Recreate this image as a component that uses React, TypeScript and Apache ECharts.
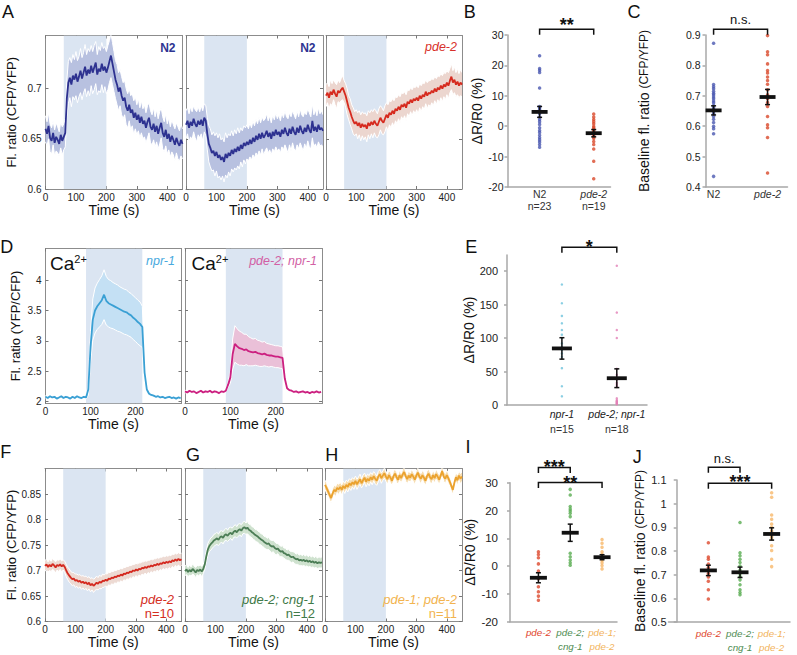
import React, { useEffect, useRef } from 'react';
import * as echarts from 'echarts';

const FONT = '"Liberation Sans", Arial, Helvetica, sans-serif';

// ---------------- trace data (mean, SEM) ----------------
// panels A, F, G, H: samples every 5 s, 0..450 s ; SEM in thousandths
const traceStep = 5;
const stimA = [60, 200];
const timeTicksA = [0, 100, 200, 300, 400];
const ratioTicksA = [0.6, 0.65, 0.7];
const ratioTicksF = [0.6, 0.65, 0.7, 0.75, 0.8, 0.85];

const a1Mean = [
  0.660, 0.655, 0.663, 0.651, 0.648, 0.656, 0.646, 0.652, 0.649, 0.645,
  0.654, 0.648, 0.652, 0.656, 0.690, 0.706, 0.711, 0.704, 0.713, 0.709,
  0.715, 0.707, 0.712, 0.718, 0.710, 0.716, 0.722, 0.713, 0.719, 0.715,
  0.723, 0.716, 0.721, 0.726, 0.714, 0.720, 0.717, 0.725, 0.718, 0.722,
  0.716, 0.721, 0.727, 0.733, 0.725, 0.717, 0.709, 0.704, 0.697, 0.701,
  0.693, 0.688, 0.691, 0.682, 0.678, 0.684, 0.676, 0.679, 0.671, 0.676,
  0.669, 0.674, 0.666, 0.672, 0.665, 0.668, 0.661, 0.667, 0.671, 0.662,
  0.659, 0.665, 0.657, 0.663, 0.655, 0.661, 0.666, 0.656, 0.652, 0.659,
  0.650, 0.655, 0.647, 0.653, 0.649, 0.644, 0.651, 0.646, 0.643, 0.649,
  0.645,
];
const a1Sem = [
  13, 12, 13, 14, 13, 12, 13, 14, 13, 12,
  13, 14, 13, 14, 18, 21, 20, 22, 21, 20,
  22, 21, 20, 22, 21, 20, 22, 21, 21, 22,
  20, 21, 22, 21, 20, 22, 21, 21, 22, 20,
  21, 22, 21, 22, 21, 20, 19, 20, 19, 18,
  19, 18, 17, 18, 17, 16, 17, 16, 17, 16,
  15, 16, 15, 16, 15, 16, 15, 16, 15, 16,
  15, 16, 15, 16, 15, 16, 15, 16, 15, 16,
  15, 16, 15, 16, 15, 16, 15, 16, 15, 16,
  15,
];
const a2Mean = [
  0.664, 0.668, 0.661, 0.667, 0.663, 0.670, 0.665, 0.662, 0.668, 0.664,
  0.669, 0.663, 0.671, 0.668, 0.655, 0.645, 0.641, 0.636, 0.638, 0.633,
  0.637, 0.631, 0.634, 0.629, 0.632, 0.627, 0.635, 0.631, 0.636, 0.633,
  0.639, 0.635, 0.640, 0.637, 0.642, 0.638, 0.644, 0.640, 0.646, 0.643,
  0.647, 0.644, 0.649, 0.645, 0.651, 0.647, 0.653, 0.649, 0.655, 0.650,
  0.656, 0.651, 0.654, 0.658, 0.652, 0.656, 0.650, 0.657, 0.653, 0.659,
  0.654, 0.657, 0.652, 0.659, 0.655, 0.661, 0.656, 0.653, 0.660, 0.655,
  0.662, 0.657, 0.654, 0.661, 0.656, 0.663, 0.658, 0.655, 0.661, 0.657,
  0.664, 0.659, 0.656, 0.668, 0.658, 0.662, 0.657, 0.664, 0.659, 0.661,
  0.658,
];
const a2Sem = [
  14, 13, 14, 15, 14, 13, 14, 15, 14, 13,
  14, 15, 14, 15, 16, 18, 19, 18, 19, 20,
  19, 20, 21, 20, 19, 20, 21, 20, 19, 20,
  19, 18, 19, 18, 19, 18, 17, 18, 17, 18,
  17, 16, 17, 16, 17, 16, 17, 16, 17, 16,
  16, 17, 16, 17, 16, 17, 16, 17, 16, 17,
  16, 17, 16, 17, 16, 17, 16, 17, 16, 17,
  16, 17, 16, 17, 16, 17, 16, 17, 16, 17,
  16, 17, 16, 17, 16, 17, 16, 17, 16, 17,
  16,
];
const a3Mean = [
  0.693, 0.696, 0.691, 0.697, 0.694, 0.699, 0.695, 0.692, 0.698, 0.696,
  0.699, 0.701, 0.697, 0.693, 0.687, 0.681, 0.677, 0.672, 0.668, 0.665,
  0.667, 0.663, 0.666, 0.661, 0.665, 0.662, 0.664, 0.660, 0.666, 0.663,
  0.667, 0.664, 0.668, 0.665, 0.663, 0.667, 0.671, 0.668, 0.666, 0.670,
  0.674, 0.671, 0.676, 0.674, 0.678, 0.675, 0.680, 0.678, 0.682, 0.679,
  0.684, 0.682, 0.685, 0.681, 0.687, 0.685, 0.689, 0.686, 0.690, 0.688,
  0.691, 0.688, 0.693, 0.690, 0.694, 0.692, 0.697, 0.693, 0.696, 0.695,
  0.698, 0.696, 0.700, 0.697, 0.701, 0.699, 0.703, 0.700, 0.704, 0.702,
  0.706, 0.703, 0.708, 0.712, 0.706, 0.709, 0.704, 0.707, 0.703, 0.706,
  0.704,
];
const a3Sem = [
  11, 10, 11, 12, 11, 10, 11, 12, 11, 10,
  11, 12, 11, 12, 13, 12, 13, 12, 13, 12,
  12, 13, 12, 13, 12, 13, 12, 13, 12, 13,
  12, 13, 12, 13, 12, 13, 12, 13, 12, 13,
  12, 13, 12, 13, 12, 13, 12, 13, 12, 13,
  12, 13, 12, 13, 12, 13, 12, 13, 12, 13,
  12, 13, 12, 13, 12, 13, 12, 13, 12, 13,
  12, 13, 12, 13, 12, 13, 12, 13, 12, 13,
  12, 13, 12, 13, 12, 13, 12, 13, 12, 13,
  12,
];
const fMean = [
  0.709, 0.712, 0.707, 0.711, 0.708, 0.713, 0.710, 0.706, 0.711, 0.709,
  0.712, 0.708, 0.711, 0.707, 0.700, 0.694, 0.690, 0.686, 0.683, 0.684,
  0.680, 0.681, 0.678, 0.680, 0.676, 0.678, 0.675, 0.677, 0.673, 0.676,
  0.671, 0.674, 0.670, 0.673, 0.676, 0.674, 0.678, 0.676, 0.680, 0.679,
  0.682, 0.680, 0.684, 0.683, 0.686, 0.685, 0.688, 0.687, 0.690, 0.689,
  0.692, 0.690, 0.694, 0.693, 0.696, 0.695, 0.698, 0.697, 0.700, 0.699,
  0.702, 0.700, 0.703, 0.702, 0.705, 0.704, 0.707, 0.705, 0.708, 0.707,
  0.710, 0.708, 0.711, 0.710, 0.713, 0.711, 0.714, 0.713, 0.716, 0.714,
  0.717, 0.715, 0.718, 0.716, 0.720, 0.718, 0.722, 0.719, 0.723, 0.720,
  0.722,
];
const fSem = [
  10, 11, 10, 11, 10, 11, 10, 11, 10, 11,
  10, 11, 10, 11, 12, 12, 13, 12, 13, 12,
  13, 12, 13, 12, 13, 12, 13, 12, 13, 12,
  13, 12, 13, 12, 13, 12, 13, 12, 13, 12,
  12, 13, 12, 13, 12, 13, 12, 13, 12, 13,
  12, 13, 12, 13, 12, 13, 12, 13, 12, 13,
  12, 13, 12, 13, 12, 13, 12, 13, 12, 13,
  12, 13, 12, 13, 12, 13, 12, 13, 12, 13,
  12, 13, 12, 13, 12, 13, 12, 13, 12, 13,
  12,
];
const gMean = [
  0.699, 0.702, 0.697, 0.701, 0.698, 0.703, 0.700, 0.696, 0.701, 0.699,
  0.702, 0.698, 0.703, 0.712, 0.728, 0.741, 0.748, 0.752, 0.755, 0.759,
  0.761, 0.763, 0.760, 0.765, 0.767, 0.764, 0.769, 0.771, 0.768, 0.772,
  0.774, 0.771, 0.776, 0.778, 0.775, 0.779, 0.781, 0.778, 0.783, 0.785,
  0.782, 0.784, 0.780, 0.778, 0.775, 0.773, 0.770, 0.768, 0.766, 0.763,
  0.761, 0.759, 0.756, 0.754, 0.752, 0.753, 0.749, 0.747, 0.748, 0.744,
  0.742, 0.743, 0.739, 0.737, 0.738, 0.734, 0.733, 0.730, 0.731, 0.728,
  0.726, 0.727, 0.724, 0.722, 0.723, 0.720, 0.721, 0.719, 0.721, 0.718,
  0.720, 0.717, 0.719, 0.716, 0.718, 0.715, 0.717, 0.714, 0.716, 0.715,
  0.716,
];
const gSem = [
  9, 10, 9, 10, 9, 10, 9, 10, 9, 10,
  9, 10, 9, 10, 11, 12, 11, 12, 11, 12,
  11, 12, 11, 12, 11, 12, 11, 12, 11, 12,
  11, 12, 11, 12, 11, 12, 11, 12, 11, 12,
  11, 12, 11, 12, 11, 12, 11, 12, 11, 12,
  11, 12, 11, 12, 11, 12, 11, 12, 11, 12,
  11, 10, 11, 10, 11, 10, 11, 10, 11, 10,
  11, 10, 11, 10, 11, 10, 11, 10, 11, 10,
  11, 10, 11, 10, 11, 10, 11, 10, 11, 10,
  11,
];
const hMean = [
  0.868, 0.862, 0.855, 0.848, 0.842, 0.851, 0.858, 0.855, 0.862, 0.859,
  0.864, 0.858, 0.866, 0.861, 0.868, 0.864, 0.871, 0.867, 0.873, 0.869,
  0.876, 0.869, 0.874, 0.879, 0.871, 0.877, 0.882, 0.874, 0.880, 0.876,
  0.883, 0.878, 0.885, 0.880, 0.876, 0.884, 0.889, 0.881, 0.886, 0.891,
  0.884, 0.879, 0.887, 0.882, 0.876, 0.885, 0.890, 0.883, 0.878, 0.887,
  0.881, 0.888, 0.893, 0.885, 0.879, 0.886, 0.882, 0.889, 0.884, 0.878,
  0.886, 0.892, 0.884, 0.880, 0.887, 0.882, 0.876, 0.885, 0.890, 0.883,
  0.879, 0.887, 0.881, 0.889, 0.884, 0.878, 0.886, 0.895, 0.884, 0.880,
  0.887, 0.881, 0.874, 0.866, 0.858, 0.872, 0.883, 0.877, 0.886, 0.880,
  0.884,
];
const hSem = [
  9, 10, 9, 10, 9, 10, 9, 10, 9, 10,
  9, 10, 9, 10, 9, 10, 9, 10, 9, 10,
  9, 10, 9, 10, 9, 10, 9, 10, 9, 10,
  9, 10, 9, 10, 9, 10, 9, 10, 9, 10,
  9, 10, 9, 10, 9, 10, 9, 10, 9, 10,
  9, 10, 9, 10, 9, 10, 9, 10, 9, 10,
  9, 10, 9, 10, 9, 10, 9, 10, 9, 10,
  9, 10, 9, 10, 9, 10, 9, 10, 9, 10,
  9, 10, 9, 10, 9, 10, 9, 10, 9, 10,
  9,
];

// panel D: Ca2+ traces every 5 s, 0..300 s ; SEM in hundredths
const dStep = 5;
const stimD = [90, 215];
const timeTicksD = [0, 100, 200];
const ratioTicksD = [2, 2.5, 3, 3.5, 4];
const d1Mean = [
  2.08, 2.06, 2.09, 2.07, 2.08, 2.05, 2.07, 2.09, 2.06, 2.08,
  2.07, 2.05, 2.08, 2.06, 2.09, 2.07, 2.06, 2.08, 2.07, 2.20,
  2.90, 3.35, 3.50, 3.57, 3.62, 3.67, 3.76, 3.66, 3.62, 3.60,
  3.58, 3.56, 3.54, 3.52, 3.50, 3.48, 3.47, 3.44, 3.42, 3.38,
  3.35, 3.31, 3.28, 3.23, 2.48, 2.20, 2.13, 2.11, 2.10, 2.08,
  2.09, 2.07, 2.08, 2.06, 2.07, 2.08, 2.06, 2.07, 2.05, 2.07,
  2.06,
];
const d1Sem = [
  2, 2, 2, 2, 2, 2, 2, 2, 2, 2,
  2, 2, 2, 2, 2, 2, 2, 2, 2, 10,
  25, 34, 37, 38, 39, 40, 41, 40, 39, 39,
  38, 38, 38, 37, 37, 37, 37, 36, 36, 36,
  36, 36, 36, 34, 10, 4, 3, 2, 2, 2,
  2, 2, 2, 2, 2, 2, 2, 2, 2, 2,
  2,
];
const d2Mean = [
  2.17, 2.15, 2.18, 2.16, 2.17, 2.14, 2.16, 2.18, 2.15, 2.17,
  2.16, 2.18, 2.15, 2.17, 2.16, 2.14, 2.17, 2.16, 2.18, 2.28,
  2.40, 2.78, 2.95, 2.91, 2.88, 2.87, 2.85, 2.86, 2.83, 2.82,
  2.81, 2.82, 2.80, 2.79, 2.78, 2.79, 2.77, 2.76, 2.76, 2.75,
  2.74, 2.74, 2.73, 2.72, 2.38, 2.22, 2.19, 2.18, 2.16, 2.17,
  2.15, 2.16, 2.17, 2.15, 2.16, 2.14, 2.16, 2.15, 2.17, 2.15,
  2.16,
];
const d2Sem = [
  2, 2, 2, 2, 2, 2, 2, 2, 2, 2,
  2, 2, 2, 2, 2, 2, 2, 2, 2, 4,
  10, 25, 30, 29, 28, 27, 26, 25, 24, 23,
  22, 22, 21, 21, 20, 20, 19, 19, 18, 18,
  18, 18, 18, 18, 8, 3, 2, 2, 2, 2,
  2, 2, 2, 2, 2, 2, 2, 2, 2, 2,
  2,
];

// ---------------- scatter (per-animal) data ----------------
const pctTicks = [-20, -10, 0, 10, 20, 30];
// B
const bGroups = ['N2', 'pde-2'];
const bCounts = ['n=23', 'n=19'];
const bN2 = [23.2, 19, 18.4, 17.7, 12.6, 6.5, 6.1, 5.5, 4.8, 4.2, 3.0, 2.2, 1.5, 0.6, -0.5, -1.4, -2.1, -3.0, -3.8, -4.5, -5.2, -6.0, -6.9];
const bPde2 = [4.0, 3.0, 2.2, 1.5, 0.8, 0, -0.5, -1.0, -1.5, -2.0, -2.5, -3.0, -3.5, -4.0, -5.0, -6.0, -7.5, -11.5, -17.3];
const bMeans = [4.7, -2.3];
const bSems = [1.8, 1.2];
// C
const cTicks = [0.4, 0.5, 0.6, 0.7, 0.8, 0.9];
const cN2 = [0.873, 0.737, 0.73, 0.723, 0.715, 0.708, 0.703, 0.696, 0.69, 0.683, 0.677, 0.668, 0.661, 0.655, 0.648, 0.641, 0.632, 0.623, 0.612, 0.6, 0.592, 0.575, 0.435];
const cPde2 = [0.898, 0.845, 0.835, 0.805, 0.783, 0.775, 0.762, 0.75, 0.738, 0.72, 0.703, 0.69, 0.678, 0.665, 0.632, 0.605, 0.595, 0.563, 0.446];
const cMeans = [0.652, 0.696];
const cSems = [0.015, 0.025];
// E
const eTicks = [0, 50, 100, 150, 200];
const eGroups = ['npr-1', 'pde-2; npr-1'];
const eCounts = ['n=15', 'n=18'];
const eNpr1 = [180, 152, 133, 122, 112, 105, 100, 92, 87, 82, 77, 72, 55, 28, 13];
const ePde2Npr1 = [208, 138, 112, 100, 54, 45, 38, 33, 30, 27, 10, 7.5, 6, 5, 4, 3, 2, 1];
const eMeans = [84.5, 40];
const eSems = [16, 14];
// I
const ijGroups = ['pde-2', 'pde-2;\ncng-1', 'pde-1;\npde-2'];
const iPde2 = [5.2, 4.2, 3.0, 0.8, -1.8, -4.5, -7.4, -9.2, -10.8, -12.3];
const iCng1 = [27.6, 25.6, 21.4, 20.5, 19.8, 19.0, 17.8, 4.6, 3.4, 2.2, 1.2, 0.3];
const iPde1 = [9.6, 8.2, 6.8, 5.2, 4.2, 3.4, 2.6, 2.0, 1.2, 0.2, -1.0];
const iMeans = [-4.2, 12.0, 3.2];
const iSems = [1.8, 3.1, 0.9];
// J
const jTicks = [0.5, 0.6, 0.7, 0.8, 0.9, 1, 1.1];
const jPde2 = [0.835, 0.775, 0.765, 0.745, 0.73, 0.72, 0.705, 0.69, 0.672, 0.636, 0.597];
const jCng1 = [0.92, 0.793, 0.78, 0.765, 0.751, 0.737, 0.72, 0.705, 0.692, 0.678, 0.657, 0.636, 0.625, 0.615];
const jPde1 = [1.046, 1.027, 0.952, 0.934, 0.914, 0.9, 0.885, 0.87, 0.86, 0.85, 0.822, 0.802, 0.765, 0.734];
const jMeans = [0.718, 0.71, 0.872];
const jSems = [0.022, 0.022, 0.026];

// ---------------- colours ----------------
const SHADE = '#dbe5f2';
const BLUE = '#2d3190';
const RED = '#d62a1e';

function buildOption() {
  const grid: any[] = [];
  const xAxis: any[] = [];
  const yAxis: any[] = [];
  const series: any[] = [];
  const graphic: any[] = [];

  function addTrace(p: any) {
    const gi = grid.length;
    grid.push({ left: p.left, top: p.top, width: p.width, height: p.height });
    const xi = xAxis.length;
    const yi = yAxis.length;
    const line = { show: true, onZero: false, lineStyle: { color: '#8c8c8c', width: 1 } };
    const ticks = (v: number[]) => ({ show: true, inside: true, length: 3, customValues: v, lineStyle: { color: '#777', width: 1 } });
    xAxis.push({
      type: 'value', gridIndex: gi, position: 'bottom', min: 0, max: p.xMax,
      axisLine: line, axisTick: ticks(p.xTicks), splitLine: { show: false },
      axisLabel: { customValues: p.xTicks, fontSize: 10, color: '#222', margin: 3, fontFamily: FONT },
      name: 'Time (s)', nameLocation: 'middle', nameGap: p.xNameGap,
      nameTextStyle: { fontSize: 14, color: '#111', fontFamily: FONT },
    });
    xAxis.push({
      type: 'value', gridIndex: gi, position: 'top', min: 0, max: p.xMax,
      axisLine: line, axisTick: ticks(p.xTicks), axisLabel: { show: false }, splitLine: { show: false },
    });
    yAxis.push({
      type: 'value', gridIndex: gi, position: 'left', min: p.yMin, max: p.yMax,
      axisLine: line, axisTick: ticks(p.yTicks), splitLine: { show: false },
      axisLabel: { show: !!p.yName, customValues: p.yTicks, fontSize: 10, color: '#222', margin: 4, fontFamily: FONT },
      name: p.yName || '', nameLocation: 'middle', nameGap: 24,
      nameTextStyle: { fontSize: 13, color: '#111', fontFamily: FONT },
    });
    yAxis.push({
      type: 'value', gridIndex: gi, position: 'right', min: p.yMin, max: p.yMax,
      axisLine: line, axisTick: ticks(p.yTicks), axisLabel: { show: false }, splitLine: { show: false },
    });
    // stimulus window
    series.push({
      type: 'custom', xAxisIndex: xi, yAxisIndex: yi, silent: true, z: 1, clip: true,
      data: [[p.stim[0], p.stim[1]]],
      renderItem: (_params: any, api: any) => {
        const a = api.coord([api.value(0), p.yMax]);
        const b = api.coord([api.value(1), p.yMin]);
        return { type: 'rect', shape: { x: a[0], y: a[1], width: b[0] - a[0], height: b[1] - a[1] }, style: { fill: SHADE } };
      },
    });
    // SEM band
    const rows = p.mean.map((m: number, i: number) => [i * p.step, m - p.sem[i] * p.semUnit, m + p.sem[i] * p.semUnit]);
    series.push({
      type: 'custom', xAxisIndex: xi, yAxisIndex: yi, silent: true, z: 2, clip: true,
      data: rows,
      renderItem: (params: any, api: any) => {
        if (params.dataIndex !== 0) return null;
        const up = rows.map((r: number[]) => api.coord([r[0], r[2]]));
        const lo = rows.map((r: number[]) => api.coord([r[0], r[1]]));
        return {
          type: 'group',
          children: [
            { type: 'polygon', shape: { points: up.concat(lo.slice().reverse()) }, style: { fill: p.band } },
            { type: 'polyline', shape: { points: up }, style: { stroke: '#ffffff', lineWidth: 1, fill: null } },
            { type: 'polyline', shape: { points: lo }, style: { stroke: '#ffffff', lineWidth: 1, fill: null } },
          ],
        };
      },
    });
    series.push({
      type: 'line', xAxisIndex: xi, yAxisIndex: yi, symbol: 'none', silent: true, z: 3,
      data: p.mean.map((v: number, i: number) => [i * p.step, v]),
      lineStyle: { color: p.color, width: 1.8 },
    });
  }

  function addStats(p: any) {
    const gi = grid.length;
    grid.push({ left: p.left, top: p.top, width: p.width, height: p.height });
    const xi = xAxis.length;
    const yi = yAxis.length;
    const gray = { color: '#a8a8a8', width: 1.5 };
    const pos = p.names.map((_: any, k: number) => k + 1);
    const rich: any = { n: { fontSize: p.labelSize, lineHeight: p.lineH, color: '#333', fontFamily: FONT } };
    p.names.forEach((_: string, k: number) => {
      rich['g' + k] = {
        fontSize: p.labelSize, lineHeight: p.lineH, color: p.labelColors[k],
        fontStyle: p.italic[k] ? 'italic' : 'normal', fontFamily: FONT,
      };
    });
    const labels = p.names.map((nm: string, k: number) => {
      const lines = nm.split('\n').map((l) => `{g${k}|${l}}`);
      if (p.counts) lines.push(`{n|${p.counts[k]}}`);
      return lines.join('\n');
    });
    xAxis.push({
      type: 'value', gridIndex: gi, min: p.xMin, max: p.xMax,
      axisLine: { show: true, onZero: false, lineStyle: gray }, axisTick: { show: false }, splitLine: { show: false },
      axisLabel: { customValues: pos, formatter: (v: number) => labels[Math.round(v) - 1] || '', margin: p.labelMargin, rich },
    });
    yAxis.push({
      type: 'value', gridIndex: gi, min: p.yMin, max: p.yMax,
      axisLine: { show: true, lineStyle: gray },
      axisTick: { show: true, customValues: p.yTicks, length: 3, lineStyle: gray },
      splitLine: { show: false },
      axisLabel: { customValues: p.yTicks, fontSize: p.tickSize, color: '#222', margin: p.tickMargin, fontFamily: FONT },
      name: p.yName, nameLocation: 'middle', nameGap: p.yNameGap,
      nameTextStyle: { fontSize: 14, color: '#111', fontFamily: FONT, rich: p.yRich },
    });
    p.groups.forEach((vals: number[], k: number) => {
      series.push({
        type: 'scatter', xAxisIndex: xi, yAxisIndex: yi, silent: true, z: 2,
        data: vals.map((v) => [k + 1, v]), symbol: 'circle', symbolSize: p.dot,
        itemStyle: { color: p.dotColors[k] },
      });
    });
    const hw = p.barHalf;
    series.push({
      type: 'custom', xAxisIndex: xi, yAxisIndex: yi, silent: true, z: 4,
      data: p.means.map((m: number, k: number) => [k + 1, m, p.sems[k]]),
      renderItem: (_params: any, api: any) => {
        const x = api.value(0), m = api.value(1), s = api.value(2);
        const c = api.coord([x, m]);
        const hi = api.coord([x, m + s]);
        const lo = api.coord([x, m - s]);
        const st = { stroke: '#111', lineWidth: 1.5 };
        return {
          type: 'group',
          children: [
            { type: 'line', shape: { x1: lo[0], y1: lo[1], x2: hi[0], y2: hi[1] }, style: st },
            { type: 'line', shape: { x1: hi[0] - 2.5, y1: hi[1], x2: hi[0] + 2.5, y2: hi[1] }, style: st },
            { type: 'line', shape: { x1: lo[0] - 2.5, y1: lo[1], x2: lo[0] + 2.5, y2: lo[1] }, style: st },
            { type: 'line', shape: { x1: c[0] - hw, y1: c[1], x2: c[0] + hw, y2: c[1] }, style: { stroke: '#111', lineWidth: 3.8 } },
          ],
        };
      },
    });
    series.push({
      type: 'custom', xAxisIndex: xi, yAxisIndex: yi, silent: true, z: 4, clip: false,
      data: p.brackets.map((b: any) => [b.from, b.to, b.y]),
      renderItem: (params: any, api: any) => {
        const b = p.brackets[params.dataIndex];
        const a = api.coord([api.value(0), api.value(2)]);
        const e = api.coord([api.value(1), api.value(2)]);
        const leg = 5.5;
        const isStar = b.text.indexOf('*') >= 0;
        return {
          type: 'group',
          children: [
            {
              type: 'polyline',
              shape: { points: [[a[0], a[1] + leg], [a[0], a[1]], [e[0], e[1]], [e[0], e[1] + leg]] },
              style: { stroke: '#111', lineWidth: 1.5, fill: null },
            },
            {
              type: 'text', x: (a[0] + e[0]) / 2, y: a[1] + b.dy,
              style: {
                text: b.text, align: 'center', verticalAlign: 'middle',
                fontSize: isStar ? 18 : 13, fontWeight: isStar ? 'bold' : 'normal',
                fontFamily: FONT, fill: '#111',
              },
            },
          ],
        };
      },
    });
  }

  // ---- panel A ----
  addTrace({ left: 45.5, top: 35.5, width: 137, height: 153.5, xMax: 450, yMin: 0.6, yMax: 0.753, xTicks: timeTicksA, yTicks: ratioTicksA, yName: 'Fl. ratio (CFP/YFP)', xNameGap: 8, mean: a1Mean, sem: a1Sem, semUnit: 0.001, step: traceStep, stim: stimA, color: BLUE, band: '#b8c1e0' });
  addTrace({ left: 186, top: 35.5, width: 137, height: 153.5, xMax: 450, yMin: 0.6, yMax: 0.753, xTicks: timeTicksA, yTicks: ratioTicksA, xNameGap: 8, mean: a2Mean, sem: a2Sem, semUnit: 0.001, step: traceStep, stim: stimA, color: BLUE, band: '#b8c1e0' });
  addTrace({ left: 326, top: 35.5, width: 136, height: 153.5, xMax: 450, yMin: 0.6, yMax: 0.753, xTicks: timeTicksA, yTicks: ratioTicksA, xNameGap: 8, mean: a3Mean, sem: a3Sem, semUnit: 0.001, step: traceStep, stim: stimA, color: RED, band: '#ecd6cf' });
  // ---- panel D ----
  addTrace({ left: 45.5, top: 248.5, width: 136, height: 155, xMax: 302, yMin: 1.97, yMax: 4.52, xTicks: timeTicksD, yTicks: ratioTicksD, yName: 'Fl. ratio (YFP/CFP)', xNameGap: 11, mean: d1Mean, sem: d1Sem, semUnit: 0.01, step: dStep, stim: stimD, color: '#3aa0d4', band: '#c4e0f4' });
  addTrace({ left: 185, top: 248.5, width: 137, height: 155, xMax: 302, yMin: 1.97, yMax: 4.52, xTicks: timeTicksD, yTicks: ratioTicksD, xNameGap: 11, mean: d2Mean, sem: d2Sem, semUnit: 0.01, step: dStep, stim: stimD, color: '#cc2080', band: '#eac0d8' });
  // ---- panels F, G, H ----
  addTrace({ left: 45, top: 468.5, width: 136.5, height: 153, xMax: 450, yMin: 0.6, yMax: 0.9, xTicks: timeTicksA, yTicks: ratioTicksF, yName: 'Fl. ratio (CFP/YFP)', xNameGap: 7, mean: fMean, sem: fSem, semUnit: 0.001, step: traceStep, stim: stimA, color: '#d42a20', band: '#eddad3' });
  addTrace({ left: 185, top: 468.5, width: 137, height: 153, xMax: 450, yMin: 0.6, yMax: 0.9, xTicks: timeTicksA, yTicks: ratioTicksF, xNameGap: 7, mean: gMean, sem: gSem, semUnit: 0.001, step: traceStep, stim: stimA, color: '#4b7d55', band: '#cfe2cf' });
  addTrace({ left: 325, top: 468.5, width: 137, height: 153, xMax: 450, yMin: 0.6, yMax: 0.9, xTicks: timeTicksA, yTicks: ratioTicksF, xNameGap: 7, mean: hMean, sem: hSem, semUnit: 0.001, step: traceStep, stim: stimA, color: '#eba22e', band: '#f7ddb0' });

  const baseRich = { a: { fontSize: 14, fontFamily: FONT, color: '#111' }, b: { fontSize: 12, fontFamily: FONT, color: '#111' } };
  // ---- panel B ----
  addStats({
    left: 507.5, top: 35, width: 103, height: 152, xMin: 0.407, xMax: 2.31, yMin: -20, yMax: 30, yTicks: pctTicks,
    names: bGroups, counts: bCounts, italic: [false, true], labelColors: ['#333', '#333'], labelSize: 10.5, lineH: 12, labelMargin: 1,
    groups: [bN2, bPde2], dotColors: ['#4a57b0', '#d9482b'], dot: 3.5, means: bMeans, sems: bSems, barHalf: 8,
    tickSize: 10.5, tickMargin: 4, yName: 'ΔR/R0 (%)', yNameGap: 24,
    brackets: [{ from: 1, to: 2, y: 31.9, text: '**', dy: -4.4 }],
  });
  // ---- panel C ----
  addStats({
    left: 705.5, top: 35, width: 82, height: 152, xMin: 0.85, xMax: 2.37, yMin: 0.4, yMax: 0.9, yTicks: cTicks,
    names: bGroups, italic: [false, true], labelColors: ['#333', '#333'], labelSize: 10.5, lineH: 12, labelMargin: 1,
    groups: [cN2, cPde2], dotColors: ['#4a57b0', '#d9482b'], dot: 3.5, means: cMeans, sems: cSems, barHalf: 8,
    tickSize: 10.5, tickMargin: 5, yName: '{a|Baseline fl. ratio} {b|(CFP/YFP)}', yRich: baseRich, yNameGap: 55,
    brackets: [{ from: 1, to: 2, y: 0.919, text: 'n.s.', dy: -9.9 }],
  });
  // ---- panel E ----
  addStats({
    left: 507, top: 255, width: 140, height: 150, xMin: 0, xMax: 2.55, yMin: 0, yMax: 224, yTicks: eTicks,
    names: eGroups, counts: eCounts, italic: [true, true], labelColors: ['#222', '#222'], labelSize: 10.5, lineH: 15, labelMargin: 1,
    groups: [eNpr1, ePde2Npr1], dotColors: ['#6ec3dc', '#e27fb6'], dot: 2.5, means: eMeans, sems: eSems, barHalf: 10,
    tickSize: 11, tickMargin: 9, yName: 'ΔR/R0 (%)', yNameGap: 28,
    brackets: [{ from: 1, to: 2, y: 235.4, text: '*', dy: 0 }],
  });
  // ---- panel I ----
  const ijColors = ['#e0452c', '#4e8c52', '#f2b35a'];
  addStats({
    left: 510, top: 482.7, width: 107, height: 139, xMin: 0.107, xMax: 3.47, yMin: -20, yMax: 30, yTicks: pctTicks,
    names: ijGroups, italic: [true, true, true], labelColors: ijColors, labelSize: 9.8, lineH: 14, labelMargin: 4,
    groups: [iPde2, iCng1, iPde1], dotColors: ['#dd4a2e', '#5aac52', '#f7b86a'], dot: 3.5, means: iMeans, sems: iSems, barHalf: 8.5,
    tickSize: 11.5, tickMargin: 12, yName: 'ΔR/R0 (%)', yNameGap: 27,
    brackets: [{ from: 1, to: 2, y: 35.5, text: '***', dy: -0.2 }, { from: 1, to: 3, y: 30.1, text: '**', dy: 0.1 }],
  });
  // ---- panel J ----
  addStats({
    left: 668.5, top: 480, width: 121.5, height: 142, xMin: -0.26, xMax: 3.58, yMin: 0.5, yMax: 1.1, yTicks: jTicks,
    names: ijGroups, italic: [true, true, true], labelColors: ijColors, labelSize: 9.8, lineH: 14, labelMargin: 4,
    groups: [jPde2, jCng1, jPde1], dotColors: ['#dd4a2e', '#5aac52', '#f7b86a'], dot: 3.5, means: jMeans, sems: jSems, barHalf: 8.5,
    tickSize: 11, tickMargin: 2, yName: '{a|Baseline fl. ratio} {b|(CFP/YFP)}', yRich: baseRich, yNameGap: 18,
    brackets: [{ from: 1, to: 2, y: 1.154, text: 'n.s.', dy: -8.4 }, { from: 1, to: 3, y: 1.086, text: '***', dy: -0.9 }],
  });

  // ---- panel letters ----
  const letters: [string, number, number][] = [
    ['A', 2, 2.7], ['B', 463.7, 2.7], ['C', 627.4, 2.7], ['D', 0.3, 237.7], ['E', 465.3, 237.7],
    ['F', 0.3, 442.7], ['G', 185.9, 446], ['H', 325.3, 446], ['I', 465.6, 437.7], ['J', 632.8, 447.7],
  ];
  letters.forEach(([t, x, y]) => {
    graphic.push({ type: 'text', x, y, silent: true, style: { text: t, fontSize: 18, fontFamily: FONT, fill: '#111', align: 'left', verticalAlign: 'top' } });
  });

  // ---- in-plot labels ----
  const lab = (text: string, x: number, y: number, color: string, size: number, italic: boolean, bold = false) =>
    graphic.push({
      type: 'text', x, y, silent: true, z: 10,
      style: { text, fontSize: size, fontFamily: FONT, fill: color, align: 'right', verticalAlign: 'middle', fontStyle: italic ? 'italic' : 'normal', fontWeight: bold ? 'bold' : 'normal' },
    });
  lab('N2', 175.5, 47.5, '#2e3592', 12, false, true);
  lab('N2', 315.5, 47.5, '#2e3592', 12, false, true);
  lab('pde-2', 457, 47, '#d8302a', 12.5, true);
  lab('npr-1', 175, 261, '#48a9de', 12.5, true);
  lab('pde-2; npr-1', 317, 261, '#d25fa5', 12.5, true);
  lab('pde-2', 174, 599, '#d42e1e', 13, true);
  lab('n=10', 174, 613, '#d42e1e', 13, false);
  lab('pde-2; cng-1', 315, 599, '#3f7a48', 13, true);
  lab('n=12', 315, 613, '#3f7a48', 13, false);
  lab('pde-1; pde-2', 457, 599, '#f2b450', 13, true);
  lab('n=11', 457, 613, '#f2b450', 13, false);
  [50, 191.5].forEach((x) => {
    graphic.push({
      type: 'text', x, y: 263, silent: true, z: 10,
      style: {
        text: '{a|Ca}{s|2+}', align: 'left', verticalAlign: 'middle',
        rich: { a: { fontSize: 19, fontFamily: FONT, fill: '#111', color: '#111' }, s: { fontSize: 11, fontFamily: FONT, fill: '#111', color: '#111', verticalAlign: 'top' } },
      },
    });
  });

  return { animation: false, backgroundColor: '#ffffff', grid, xAxis, yAxis, series, graphic };
}

export default function App() {
  const ref = useRef<HTMLDivElement>(null);
  useEffect(() => {
    const chart = echarts.init(ref.current as HTMLDivElement, null, { renderer: 'svg' });
    chart.setOption(buildOption() as any);
    return () => chart.dispose();
  }, []);
  return <div ref={ref} style={{ position: 'absolute', left: 0, top: 0, width: 797, height: 655, background: '#fff' }} />;
}
